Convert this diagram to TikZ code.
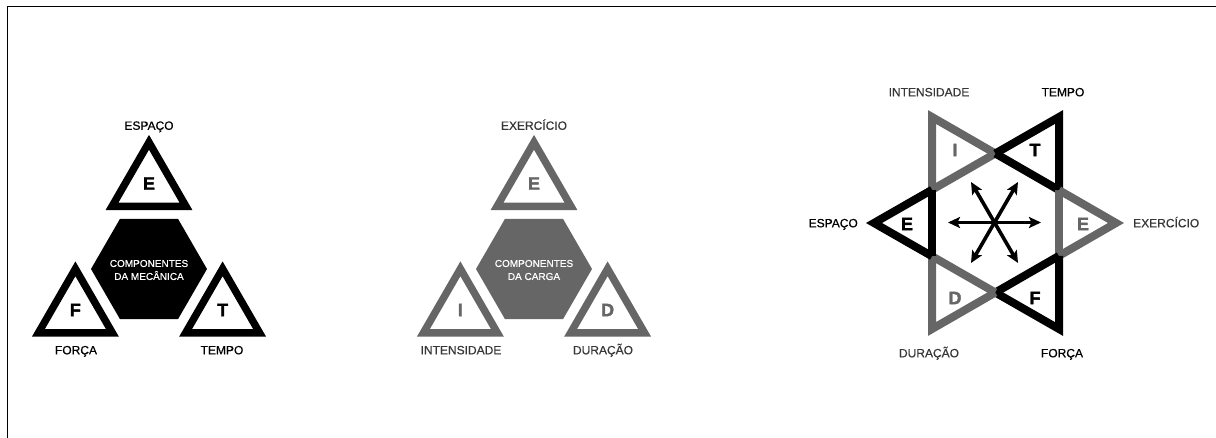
\documentclass[tikz,border=0pt]{standalone}
\usepackage{fontspec}
\setmainfont{Liberation Sans}[FakeBold=0.4]
\newfontfamily\labelfont[FakeBold=0.5]{Liberation Sans}
\newfontfamily\heavyfont[FakeBold=2]{Liberation Sans Bold}
\usetikzlibrary{arrows.meta}
\definecolor{tgray}{RGB}{102,102,102}
\definecolor{lgray}{RGB}{55,55,55}

\begin{document}
\begin{tikzpicture}[x=1pt,y=-1pt,
  bktri/.style={draw=black, line width=7.4pt, line join=miter},
  grtri/.style={draw=tgray, line width=7.4pt, line join=miter},
  bkstar/.style={draw=black, line width=8pt, line join=miter, line cap=butt},
  grstar/.style={draw=tgray, line width=8pt, line join=miter, line cap=butt},
  lab/.style={font=\fontsize{12pt}{12pt}\labelfont, inner sep=0pt, anchor=base},
  glab/.style={lab, text=lgray},
  letter/.style={font=\fontsize{18pt}{18pt}\heavyfont, inner sep=0pt},
  gletter/.style={letter, text=tgray},
  hextext/.style={font=\fontsize{10pt}{13pt}\labelfont, text=white, align=center, inner sep=0pt},
  dbl/.style={{Stealth[length=12pt,width=11pt,inset=2.5pt]}-{Stealth[length=12pt,width=11pt,inset=2.5pt]}, line width=3.6pt}
]
\useasboundingbox (0,0) rectangle (1216,438);

% frame edges
\draw[line width=1pt] (1216,7) -- (7,7) -- (7,438);

% ---------- mechanics components ----------
\fill[black] (207,269) -- (178,218.8) -- (120,218.8) -- (91,269) -- (120,319.2) -- (178,319.2) -- cycle;
\node[hextext] (mech) at (149,270) {COMPONENTES\\DA MECÂNICA};

\draw[bktri] (149,142.3) -- (112,206.35) -- (186,206.35) -- cycle;
\draw[bktri] (75.4,268.8) -- (38.4,332.85) -- (112.4,332.85) -- cycle;
\draw[bktri] (222.6,268.8) -- (185.6,332.85) -- (259.6,332.85) -- cycle;
\node[letter] (mE) at (149,183.5) {E};
\node[letter] (mF) at (75.4,310) {F};
\node[letter] (mT) at (222.6,310) {T};
\node[lab] (mEl) at (149,129.8) {ESPAÇO};
\node[lab] (mFl) at (76,354.3) {FORÇA};
\node[lab] (mTl) at (222,354.3) {TEMPO};

% ---------- load components ----------
\fill[tgray] (592,269) -- (563,218.8) -- (505,218.8) -- (476,269) -- (505,319.2) -- (563,319.2) -- cycle;
\node[hextext] (load) at (534,270) {COMPONENTES\\DA CARGA};

\draw[grtri] (534,142.3) -- (497,206.35) -- (571,206.35) -- cycle;
\draw[grtri] (460.4,268.8) -- (423.4,332.85) -- (497.4,332.85) -- cycle;
\draw[grtri] (607.6,268.8) -- (570.6,332.85) -- (644.6,332.85) -- cycle;
\node[gletter] (lE) at (534,183.5) {E};
\node[gletter] (lI) at (460.4,310) {I};
\node[gletter] (lD) at (607.6,310) {D};
\node[glab] (lEl) at (534,129.8) {EXERCÍCIO};
\node[glab] (lIl) at (461,354.3) {INTENSIDADE};
\node[glab] (lDl) at (603,354.3) {DURAÇÃO};

% ---------- hexagram ----------
\coordinate (G1) at (932,117);
\coordinate (G2) at (932,329);
\coordinate (G3) at (1116,223);
\coordinate (B1) at (1059,117);
\coordinate (B2) at (1059,329);
\coordinate (B3) at (874,223);
\coordinate (Ptop) at (intersection of G1--G3 and B3--B1);
\coordinate (Pur)  at (intersection of G1--G3 and B1--B2);
\coordinate (Plr)  at (intersection of G2--G3 and B1--B2);
\coordinate (Pbot) at (intersection of G2--G3 and B3--B2);
\coordinate (Pbl)  at (intersection of G1--G2 and B3--B2);
\coordinate (Pul)  at (intersection of G1--G2 and B3--B1);

% inner hexagon edges
\draw[grstar] (Ptop) -- (Pul);
\draw[bkstar] (Ptop) -- (Pur);
\draw[grstar] (Pur) -- (Plr);
\draw[bkstar] (Plr) -- (Pbot);
\draw[grstar] (Pbot) -- (Pbl);
\draw[bkstar] (Pbl) -- (Pul);
% outer points
\draw[grstar] (Ptop) -- (G1) -- (Pul);
\draw[bkstar] (Ptop) -- (B1) -- (Pur);
\draw[grstar] (Pur) -- (G3) -- (Plr);
\draw[bkstar] (Plr) -- (B2) -- (Pbot);
\draw[grstar] (Pbot) -- (G2) -- (Pbl);
\draw[bkstar] (Pbl) -- (B3) -- (Pul);

\node[gletter] (sI) at (955,150) {I};
\node[letter]  (sT) at (1035,150) {T};
\node[letter]  (sEl) at (907,224) {E};
\node[gletter] (sEr) at (1083,224) {E};
\node[gletter] (sD) at (955,298) {D};
\node[letter]  (sF) at (1035,298) {F};

\node[glab] (sIl) at (929,96.3) {INTENSIDADE};
\node[lab]  (sTl) at (1063,96.3) {TEMPO};
\node[lab, anchor=base east] (sEll) at (858,227.3) {ESPAÇO};
\node[glab, anchor=base west] (sErl) at (1133,227.3) {EXERCÍCIO};
\node[glab] (sDl) at (929,357.3) {DURAÇÃO};
\node[lab]  (sFl) at (1062,357.3) {FORÇA};

% interaction arrows
\coordinate (c0) at (994.5,222.5);
\coordinate (a1) at (948,222.5);
\coordinate (a2) at (1041,222.5);
\coordinate (a3) at (971,182);
\coordinate (a4) at (1018,263);
\coordinate (a5) at (1018,182);
\coordinate (a6) at (971,263);
\draw[dbl] (a1) -- (a2);
\draw[dbl] (a3) -- (a4);
\draw[dbl] (a5) -- (a6);
\end{tikzpicture}
\end{document}
